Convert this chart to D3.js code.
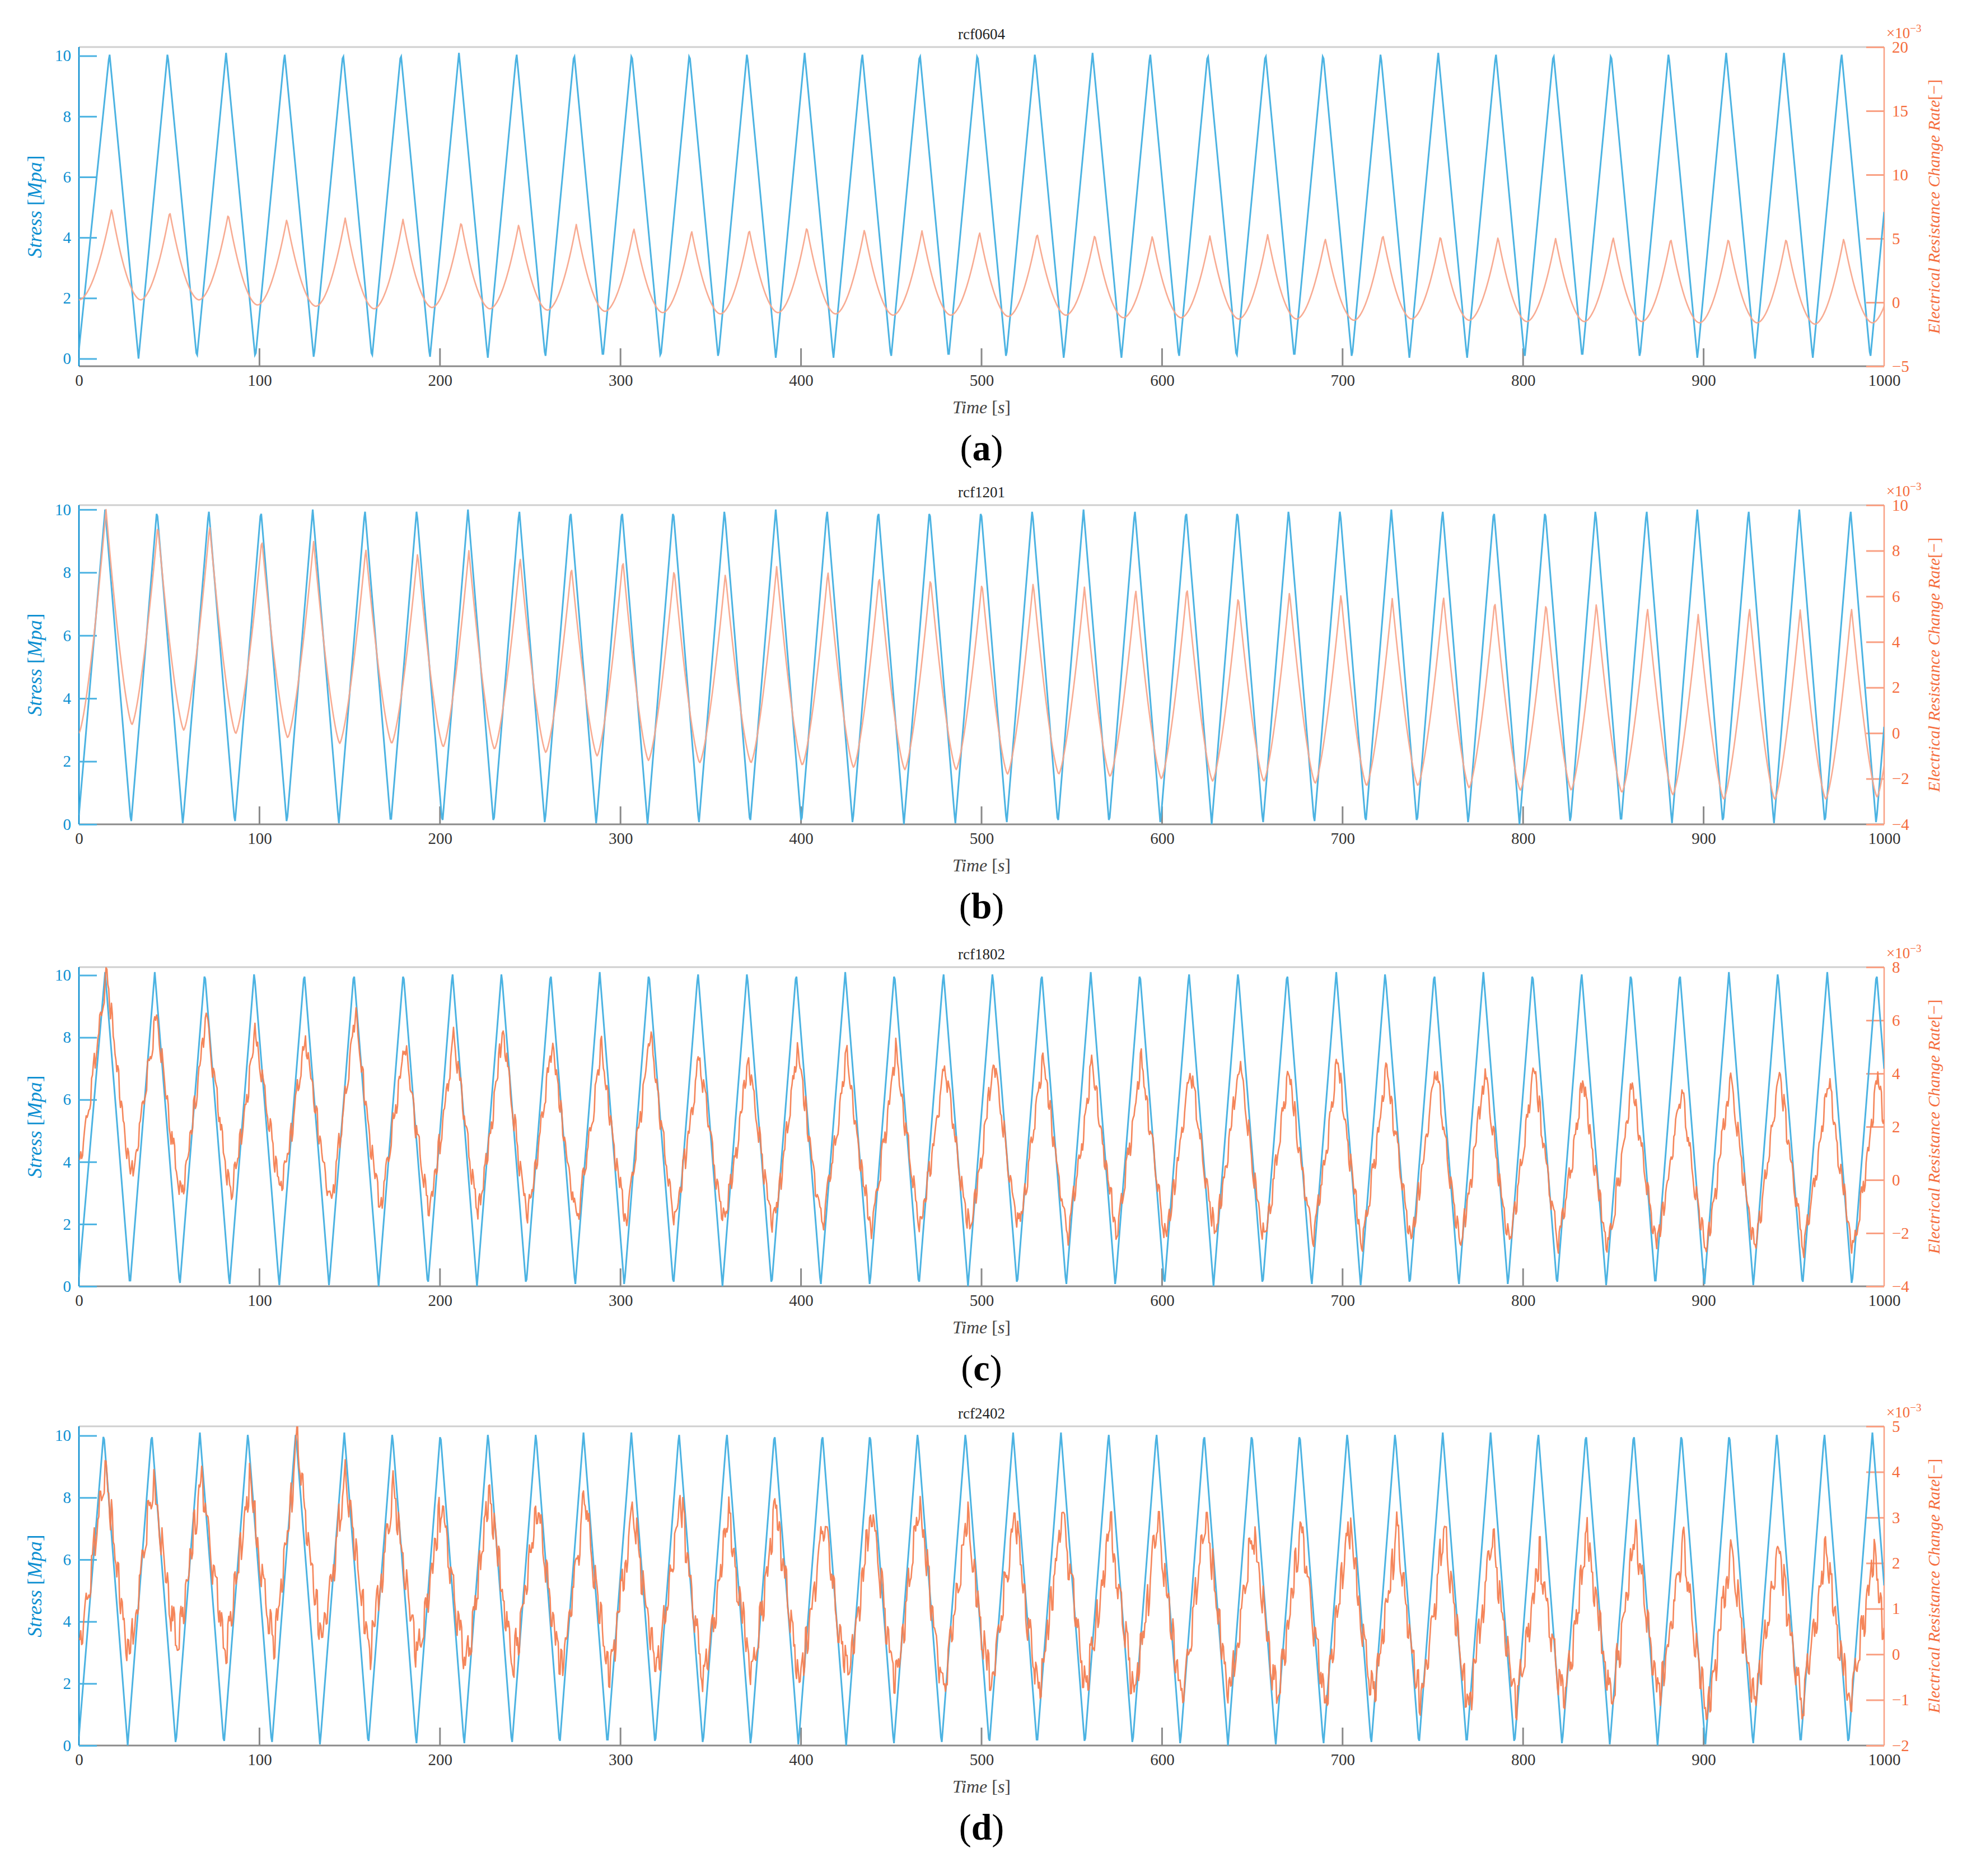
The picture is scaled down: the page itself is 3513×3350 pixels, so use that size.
<!DOCTYPE html>
<html><head><meta charset="utf-8">
<script src="https://cdn.jsdelivr.net/npm/d3@7"></script>
<style>body{margin:0;background:#fff}svg{display:block}</style>
</head><body>
<script>
// ---------- DATA ----------
const titles = ["rcf0604","rcf1201","rcf1802","rcf2402"];
const panelLetters = ["a","b","c","d"];
const xTicks = [0,100,200,300,400,500,600,700,800,900,1000];
const leftTicks = [0,2,4,6,8,10];
const rightTicksA = [-5,0,5,10,15,20];
const rightTicksB = [-4,-2,0,2,4,6,8,10];
const rightTicksC = [-4,-2,0,2,4,6,8];
const rightTicksD = [-2,-1,0,1,2,3,4,5];

// stress peak times [s]
const peaksA = [16.9,49.1,81.5,113.9,146.3,178.3,210.5,242.4,274.3,306.2,338.2,370.1,402.0,433.9,465.8,497.7,529.6,561.5,593.4,625.3,657.3,689.2,721.1,753.0,784.9,816.8,848.7,880.6,912.5,944.5,976.4];
const peaksB = [14.5,43.2,71.9,100.8,129.5,158.4,187.1,215.5,243.9,272.3,300.8,329.2,357.6,386.0,414.4,442.8,471.2,499.7,528.1,556.5,584.9,613.3,641.7,670.1,698.6,727.0,755.4,783.8,812.2,840.1,868.4,896.5,924.9,953.0,981.4];
const peaksC = [14.5,42.0,69.7,97.1,124.8,152.3,179.7,206.9,234.1,261.3,288.5,315.7,342.9,370.1,397.3,424.5,451.7,478.9,506.1,533.3,560.5,587.7,614.9,642.1,669.3,696.5,723.6,750.8,778.0,805.2,832.4,859.7,886.8,914.0,941.1,968.5,995.8];
const peaksD = [13.7,40.3,67.0,93.6,120.1,147.0,173.6,200.2,226.6,253.1,279.5,306.0,332.4,358.9,385.3,411.8,438.2,464.6,491.1,517.5,544.0,570.4,596.9,623.3,649.7,676.2,702.6,729.1,755.5,782.0,808.4,834.8,861.3,887.7,914.2,940.6,966.9,993.5];

// resistance change rate (x1e-3): per-cycle peak and following trough values, start value
const resPeakA = [7.3,7.1,6.9,6.5,6.6,6.5,6.3,6.1,6.1,5.8,5.6,5.7,5.9,5.7,5.6,5.5,5.4,5.3,5.2,5.2,5.3,5.0,5.3,5.2,5.1,5.0,5.1,5.0,5.0,5.0,5.0];
const resTroughA = [0.2,0.2,-0.2,-0.3,-0.5,-0.4,-0.5,-0.6,-0.7,-0.8,-0.9,-0.8,-0.9,-1.0,-1.0,-1.1,-1.0,-1.2,-1.2,-1.3,-1.3,-1.4,-1.3,-1.4,-1.5,-1.5,-1.5,-1.6,-1.6,-1.7,-1.6];
const resPeakB = [9.8,9.1,9.1,8.5,8.4,8.1,7.9,8.0,7.7,7.3,7.6,7.2,7.0,7.3,7.1,6.9,6.8,6.6,6.6,6.4,6.3,6.4,6.0,6.2,6.1,5.9,6.0,5.8,5.7,5.7,5.5,5.2,5.5,5.4,5.5];
const resTroughB = [0.37,0.13,-0.02,-0.2,-0.45,-0.45,-0.6,-0.7,-0.85,-1.0,-1.2,-1.3,-1.3,-1.4,-1.5,-1.6,-1.6,-1.8,-1.8,-1.9,-2.0,-2.1,-2.1,-2.2,-2.3,-2.3,-2.4,-2.5,-2.5,-2.6,-2.7,-2.9,-2.9,-2.9,-2.8];
const resPeakC = [7.8,6.3,6.3,5.6,5.35,6.3,5.2,5.5,5.7,5.2,5.0,5.6,4.8,4.6,5.0,4.7,4.9,4.5,4.6,4.7,4.4,4.6,4.3,4.5,4.2,4.6,4.3,4.4,4.1,4.3,3.8,3.7,3.5,3.9,4.1,3.8,4.0];
const resTroughC = [0.15,-0.6,-0.5,-0.3,-0.8,-1.0,-1.1,-1.2,-1.3,-1.4,-1.5,-1.5,-1.6,-1.7,-1.6,-1.8,-1.7,-1.9,-1.8,-2.0,-1.9,-2.1,-2.0,-2.2,-2.1,-2.3,-2.2,-2.4,-2.3,-2.3,-2.5,-2.4,-2.6,-2.5,-2.4,-2.6,-2.3];
const resPeakD = [4.1,3.86,3.96,3.86,4.7,3.96,3.62,3.38,3.6,3.3,3.5,3.2,3.4,3.1,3.3,3.0,3.2,3.4,3.0,3.1,3.2,2.9,3.0,3.1,2.8,2.9,3.0,2.7,2.8,2.6,2.17,2.65,2.75,2.5,2.3,2.4,2.3,2.2];
const resTroughD = [0.0,0.23,0.13,0.23,0.37,0.13,0.0,-0.25,-0.2,-0.3,-0.4,-0.3,-0.5,-0.4,-0.6,-0.5,-0.6,-0.7,-0.6,-0.8,-0.7,-0.8,-0.9,-0.8,-0.9,-1.0,-0.9,-1.0,-1.1,-1.0,-1.0,-1.0,-0.9,-1.3,-1.0,-1.0,-1.0,-1.3];
const resStart = [0.2,0.0,0.6,0.2];
const stressStart = [0.3,0.3,0.3,0.3];
const stressPeakValue = [10.1,10.0,10.1,10.1];
// hand-read measurement jitter pattern (x1e-3, normalised)
const jitter = [0.3,-0.8,0.1,0.6,-0.2,-1.0,0.4,0.9,-0.5,0.0,0.7,-0.3,-0.9,0.5,0.2,-0.6,1.0,-0.1,-0.4,0.8,-0.7,0.3,0.0,-1.0,0.6,-0.2,0.9,-0.5,0.1,-0.8,0.4,0.7,-0.3,-0.6,1.0,0.2,-0.9,0.5,-0.1,0.3,-0.7,0.8,0.0,-0.4,0.6,-1.0,0.2,0.9,-0.3,-0.5,0.7,0.1,-0.8,0.4,-0.2,0.5,-0.6,1.0,-0.9,0.3,0.0];

// ---------- CONFIG ----------
const panels = [
 {peaks:peaksA,rp:resPeakA,rt:resTroughA,ly:[-0.25,10.29],ry:[-5,20],rt2:rightTicksA,shape:1.8,lag:1.2,noise:0,col:"#f8a68c"},
 {peaks:peaksB,rp:resPeakB,rt:resTroughB,ly:[0,10.14],ry:[-4,10],rt2:rightTicksB,shape:1.4,lag:0.5,noise:0,col:"#f8a68c"},
 {peaks:peaksC,rp:resPeakC,rt:resTroughC,ly:[0,10.26],ry:[-4,8],rt2:rightTicksC,shape:1.15,lag:0.8,noise:0.45,col:"#f47f52"},
 {peaks:peaksD,rp:resPeakD,rt:resTroughD,ly:[0,10.3],ry:[-2,5],rt2:rightTicksD,shape:1.15,lag:0.8,noise:0.42,col:"#f47f52"}
];
const tops = [84,902,1727,2547];
const L = 141, R = 3365, H = 570;
const BLUE_LINE = "#4cb3e2", BLUE_AX = "#0b8fd1", OR_AX = "#f56c3c", OR_SPINE = "#f9a184";
const FONT = "'Liberation Serif', 'DejaVu Serif', serif";

const svg = d3.select("body").append("svg").attr("width",3513).attr("height",3350);

function buildKnots(peaks, pv, tv, start) {
  const k = [[0,start,null]];
  const n = peaks.length;
  for (let i=0;i<n;i++){
    k.push([peaks[i], pv[i], "p"]);
    const tt = i<n-1 ? (peaks[i]+peaks[i+1])/2 : peaks[i]+(peaks[i]-peaks[i-1])/2;
    k.push([tt, tv[i], "t"]);
  }
  k.push([peaks[n-1]+(peaks[n-1]-peaks[n-2]), pv[n-1], "p"]);
  return k;
}
function evalCurve(k, t, a) {
  let j=0; while (j<k.length-2 && k[j+1][0]<t) j++;
  const [t0,v0]=k[j], [t1,v1,type]=k[j+1];
  const u = Math.max(0,Math.min(1,(t-t0)/(t1-t0)));
  if (type==="p") { return v0+(v1-v0)*Math.pow(u,a); }
  return v1+(v0-v1)*Math.pow(1-u,a);
}

panels.forEach((p,i)=>{
  const top = tops[i], bot = top+H;
  const x = d3.scaleLinear().domain([0,1000]).range([L,R]);
  const yl = d3.scaleLinear().domain(p.ly).range([bot,top]);
  const yr = d3.scaleLinear().domain(p.ry).range([bot,top]);
  const g = svg.append("g");

  const sK = buildKnots(p.peaks, p.peaks.map(()=>stressPeakValue[i]), p.peaks.map(()=>0), stressStart[i]);
  const rK = buildKnots(p.peaks.map(v=>v+p.lag), p.rp, p.rt, resStart[i]);
  const ts = d3.range(0,1000.01,0.5);
  const sData = ts.map(t=>[t, evalCurve(sK,t,1)]);
  const rData = ts.map(t=>{
    let v = evalCurve(rK,t,p.shape);
    if (p.noise) v += p.noise*jitter[Math.floor(t*0.9)%jitter.length] + 0.25*p.noise*jitter[Math.floor(t*2.3)%jitter.length];
    return [t,v];
  });

  const clipId="clip"+i;
  g.append("clipPath").attr("id",clipId).append("rect").attr("x",L).attr("y",top).attr("width",R-L).attr("height",H);

  g.append("line").attr("x1",L).attr("x2",R).attr("y1",top).attr("y2",top).attr("stroke","#cfcfcf").attr("stroke-width",3);
  g.append("line").attr("x1",L).attr("x2",R).attr("y1",bot).attr("y2",bot).attr("stroke","#8a8a8a").attr("stroke-width",3);

  const xa = d3.axisBottom(x).tickValues(xTicks).tickSize(0).tickPadding(14).tickFormat(d3.format("d"));
  const xg = g.append("g").attr("transform",`translate(0,${bot})`).call(xa);
  xg.select(".domain").remove();
  xg.selectAll("text").attr("font-family",FONT).attr("font-size",29).attr("fill","#333");
  g.selectAll(".xt"+i).data(xTicks.slice(1,-1)).enter().append("line")
    .attr("x1",d=>x(d)).attr("x2",d=>x(d)).attr("y1",bot).attr("y2",bot-32).attr("stroke","#8a8a8a").attr("stroke-width",3);

  const la = d3.axisLeft(yl).tickValues(leftTicks).tickSize(-32).tickPadding(14).tickFormat(d3.format("d"));
  const lg = g.append("g").attr("transform",`translate(${L},0)`).call(la);
  lg.select(".domain").attr("stroke",BLUE_AX).attr("stroke-width",2.5).attr("d",`M0,${bot}V${top}`);
  lg.selectAll(".tick line").attr("stroke",BLUE_LINE).attr("stroke-width",3);
  lg.selectAll("text").attr("font-family",FONT).attr("font-size",29).attr("fill",BLUE_AX);

  const ra = d3.axisRight(yr).tickValues(p.rt2).tickSize(-32).tickPadding(14).tickFormat(d3.format("d"));
  const rg = g.append("g").attr("transform",`translate(${R},0)`).call(ra);
  rg.select(".domain").attr("stroke",OR_SPINE).attr("stroke-width",2.5).attr("d",`M0,${bot}V${top}`);
  rg.selectAll(".tick line").attr("stroke",OR_SPINE).attr("stroke-width",3);
  rg.selectAll("text").attr("font-family",FONT).attr("font-size",29).attr("fill",OR_AX);

  const lineS = d3.line().x(d=>x(d[0])).y(d=>yl(d[1]));
  const lineR = d3.line().x(d=>x(d[0])).y(d=>yr(d[1]));
  g.append("path").datum(sData).attr("d",lineS).attr("fill","none").attr("stroke",BLUE_LINE).attr("stroke-width",3).attr("clip-path",`url(#${clipId})`);
  g.append("path").datum(rData).attr("d",lineR).attr("fill","none").attr("stroke",p.col).attr("stroke-width",2.6).attr("stroke-linejoin","round").attr("opacity",0.95).attr("clip-path",`url(#${clipId})`);

  g.append("text").attr("x",(L+R)/2).attr("y",top-14).attr("text-anchor","middle")
    .attr("font-family",FONT).attr("font-size",27).attr("fill","#222").text(titles[i]);
  const xl = g.append("text").attr("x",(L+R)/2).attr("y",bot+84).attr("text-anchor","middle")
    .attr("font-family",FONT).attr("font-size",32).attr("fill","#444");
  xl.append("tspan").attr("font-style","italic").text("Time ");
  xl.append("tspan").text("[");
  xl.append("tspan").attr("font-style","italic").text("s");
  xl.append("tspan").text("]");
  g.append("text").attr("x",(L+R)/2).attr("y",bot+168).attr("text-anchor","middle")
    .attr("font-family",FONT).attr("font-size",66).attr("fill","#000")
    .html(`(<tspan font-weight="bold">${panelLetters[i]}</tspan>)`);

  const ylab = g.append("text").attr("transform",`translate(74,${(top+bot)/2}) rotate(-90)`).attr("text-anchor","middle")
    .attr("font-family",FONT).attr("font-size",36).attr("fill",BLUE_AX);
  ylab.append("tspan").attr("font-style","italic").text("Stress ");
  ylab.append("tspan").text("[");
  ylab.append("tspan").attr("font-style","italic").text("Mpa");
  ylab.append("tspan").text("]");

  const rlab = g.append("text").attr("transform",`translate(3464,${(top+bot)/2}) rotate(-90)`).attr("text-anchor","middle")
    .attr("font-family",FONT).attr("font-size",30).attr("fill",OR_AX);
  rlab.append("tspan").attr("font-style","italic").text("Electrical Resistance Change Rate");
  rlab.append("tspan").text("[−]");

  const ex = g.append("text").attr("x",R+4).attr("y",top-16).attr("font-family",FONT).attr("font-size",27).attr("fill",OR_AX);
  ex.append("tspan").text("×10");
  ex.append("tspan").attr("dy",-11).attr("font-size",19).text("−3");
});
</script>
</body></html>
